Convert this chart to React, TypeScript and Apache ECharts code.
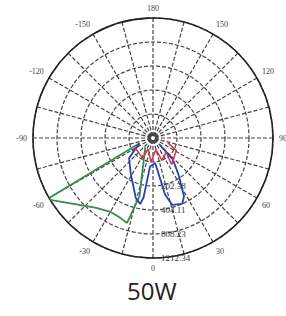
import React, { useEffect, useRef } from "react";
import * as echarts from "echarts";

// Radial ring labels (ring index 0..5)
const radiusLabels = ["", "", "202.38", "404.11", "808.23", "1212.34"];

// Green curve (angle in degrees, 0 = down; relative intensity % of outer ring)
const greenAngles = [-69, -60, -59, -45, -39, -30, -22, -17, -13, -40];
const greenValues = [12, 100, 100, 80, 75, 71, 72, 74, 50, 10];

// Blue curve
const blueAngles = [-69, -50, -32, -16, -11, -9, -6, 5, 12, 16, 24, 28, 35, 43, 45];
const blueValues = [12, 26, 35, 52, 56, 50, 24, 21, 48, 58, 60, 55, 37, 24, 8];

// Red curve
const redAngles = [-63, -27, -24, -5, 14, 22, 43, 35, 62, 72];
const redValues = [17, 19, 10, 20, 10, 20, 16, 27, 22, 13];

const toData = (angles: number[], values: number[]) =>
  angles.map((a, i) => [values[i], a < 0 ? a + 360 : a]);

export default function App() {
  const ref = useRef<HTMLDivElement>(null);
  useEffect(() => {
    if (!ref.current) return;
    const chart = echarts.init(ref.current, null, { renderer: "svg" });
    const gridStyle = { type: [4, 2], color: "#444", width: 1.2 };
    chart.setOption({
      animation: false,
      backgroundColor: "#fff",
      title: {
        text: "50W",
        left: 122,
        top: 273,
        textStyle: { fontSize: 24, fontWeight: "normal", color: "#222", fontFamily: "Open Sans" },
      },
      polar: { center: [153, 138], radius: 120 },
      angleAxis: {
        type: "value",
        min: 0,
        max: 360,
        interval: 15,
        startAngle: 270,
        clockwise: false,
        axisLine: { show: true, lineStyle: { color: "#222", width: 1.6 } },
        axisTick: { show: false },
        axisLabel: {
          formatter: (v: number) => (v % 30 === 0 && v < 360 ? String(v > 180 ? v - 360 : v) : ""),
          fontSize: 8,
          color: "#444",
          fontFamily: "Liberation Serif",
          margin: 6,
        },
        splitLine: { show: true, lineStyle: gridStyle },
      },
      radiusAxis: {
        type: "value",
        min: 0,
        max: 100,
        interval: 20,
        axisLine: { show: false },
        axisTick: { show: false },
        axisLabel: {
          formatter: (v: number) => radiusLabels[Math.round(v / 20)] || "",
          fontSize: 9,
          color: "#333",
          fontFamily: "Liberation Serif",
        },
        splitLine: { show: true, lineStyle: gridStyle },
      },
      series: [
        {
          type: "line",
          coordinateSystem: "polar",
          data: toData(greenAngles, greenValues),
          symbol: "none",
          lineStyle: { color: "#3b8a4c", width: 1.8 },
        },
        {
          type: "line",
          coordinateSystem: "polar",
          data: toData(blueAngles, blueValues),
          symbol: "none",
          lineStyle: { color: "#2c3fb2", width: 1.8 },
        },
        {
          type: "line",
          coordinateSystem: "polar",
          data: toData(redAngles, redValues),
          symbol: "none",
          lineStyle: { color: "#d8324c", width: 1.5 },
        },
      ],
    });
    return () => chart.dispose();
  }, []);
  return (
    <div
      ref={ref}
      style={{ position: "fixed", left: 0, top: 0, width: 286, height: 316 }}
    />
  );
}
